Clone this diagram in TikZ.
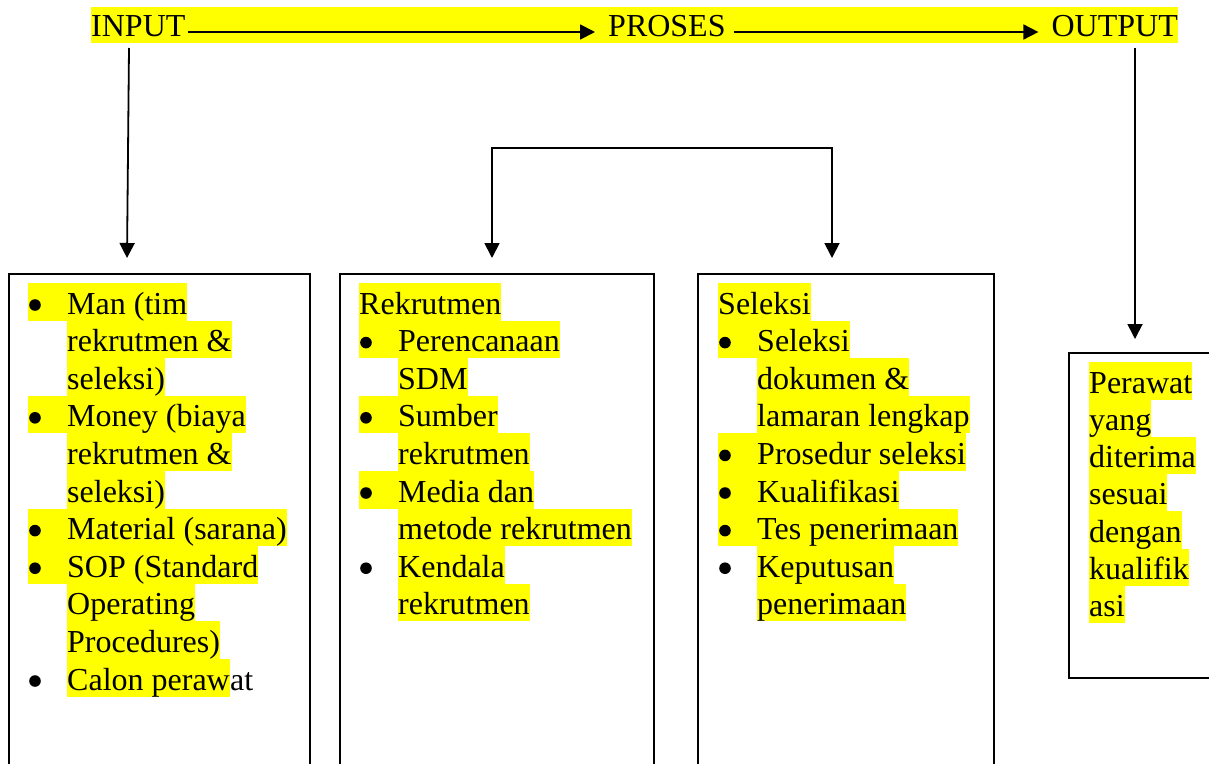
\documentclass[tikz,border=0pt]{standalone}
\usepackage{fontspec}
\setmainfont{Liberation Serif}
\usetikzlibrary{arrows.meta}
\definecolor{hly}{RGB}{255,255,0}
\begin{document}
\begin{tikzpicture}[x=1pt,y=-1pt,
  every node/.style={font=\fontsize{32pt}{37.6pt}\selectfont},
  hl/.style={fill=hly, inner sep=0pt, text height=31pt, text depth=6.6pt, anchor=base west},
  plain/.style={inner sep=0pt, text height=31pt, text depth=6.6pt, anchor=base west},
  boxst/.style={draw, line width=2pt, rectangle, inner sep=0pt, anchor=north west},
  arr/.style={line width=1.8pt, -{Triangle[width=15pt,length=15pt]}},
  darr/.style={line width=1.8pt, {Triangle[width=15pt,length=15pt]}-{Triangle[width=15pt,length=15pt]}}]
\useasboundingbox (0,0) rectangle (1209,763);
\clip (0,0) rectangle (1209,763);
\newcommand{\bul}{\hspace*{39pt}}
% top row
\node[fill=hly, inner sep=0pt, minimum width=1087pt, minimum height=36pt, anchor=north west] (band) at (91,7) {};
\node[inner sep=0pt, anchor=base west] (in) at (91,36) {INPUT};
\node[inner sep=0pt, anchor=base west] (pr) at (608,36) {PROSES};
\node[inner sep=0pt, anchor=base east] (out) at (1178,36) {OUTPUT};
\draw[arr] ([xshift=2pt,yshift=4pt]in.base east) -- ([xshift=-13pt,yshift=4pt]pr.base west);
\draw[arr] ([xshift=8pt,yshift=4pt]pr.base east) -- ([xshift=-13pt,yshift=4pt]out.base west);
% boxes
\node[boxst, minimum width=301pt, minimum height=520pt] (b1) at (8,273) {};
\node[boxst, minimum width=314pt, minimum height=520pt] (b2) at (339,273) {};
\node[boxst, minimum width=296pt, minimum height=520pt] (b3) at (697,273) {};
\node[boxst, minimum width=170pt, minimum height=325pt] (b4) at (1068,352) {};
% connectors
\coordinate (s1) at (129,48);
\coordinate (e1) at (127,258);
\coordinate (s4) at (1135,48);
\coordinate (e4) at (1135,339);
\coordinate (e2) at (492,258);
\coordinate (e3) at (832,258);
\coordinate (bk) at (662,148);
\draw[arr] (s1) -- (e1);
\draw[arr] (s4) -- (e4);
\draw[darr] (e2) |- (bk) -| (e3);
% box 1
\node[hl] (a0) at (28,314) {\bul Man (tim};
\node[hl] (a1) at (67,351.6) {rekrutmen \&};
\node[hl] (a2) at (67,389.2) {seleksi)};
\node[hl] (a3) at (28,426.8) {\bul Money (biaya};
\node[hl] (a4) at (67,464.4) {rekrutmen \&};
\node[hl] (a5) at (67,502) {seleksi)};
\node[hl] (a6) at (28,539.6) {\bul Material (sarana)};
\node[hl] (a7) at (28,577.2) {\bul SOP (Standard};
\node[hl] (a8) at (67,614.8) {Operating};
\node[hl] (a9) at (67,652.4) {Procedures)};
\node[hl] (a10) at (67,690) {Calon peraw};
\node[plain] (a10c) at (a10.base east) {at};
\foreach \n in {a0,a3,a6,a7} \fill ([xshift=7pt,yshift=9pt]\n.base west) circle (5.8pt);
\fill ([xshift=-32pt,yshift=9pt]a10.base west) circle (5.8pt);
% box 2
\node[hl] (c0) at (359,314) {Rekrutmen};
\node[hl] (c1) at (359,351.6) {\bul Perencanaan};
\node[hl] (c2) at (398,389.2) {SDM};
\node[hl] (c3) at (359,426.8) {\bul Sumber};
\node[hl] (c4) at (398,464.4) {rekrutmen};
\node[hl] (c5) at (359,502) {\bul Media dan};
\node[hl] (c6) at (398,539.6) {metode rekrutmen};
\node[hl] (c7) at (398,577.2) {Kendala};
\node[hl] (c8) at (398,614.8) {rekrutmen};
\foreach \n in {c1,c3,c5} \fill ([xshift=7pt,yshift=9pt]\n.base west) circle (5.8pt);
\fill ([xshift=-32pt,yshift=9pt]c7.base west) circle (5.8pt);
% box 3
\node[hl] (d0) at (718,314) {Seleksi};
\node[hl] (d1) at (718,351.6) {\bul Seleksi};
\node[hl] (d2) at (757,389.2) {dokumen \&};
\node[hl] (d3) at (757,426.8) {lamaran lengkap};
\node[hl] (d4) at (718,464.4) {\bul Prosedur seleksi};
\node[hl] (d5) at (718,502) {\bul Kualifikasi};
\node[hl] (d6) at (718,539.6) {\bul Tes penerimaan};
\node[hl] (d7) at (757,577.2) {Keputusan};
\node[hl] (d8) at (757,614.8) {penerimaan};
\foreach \n in {d1,d4,d5,d6} \fill ([xshift=7pt,yshift=9pt]\n.base west) circle (5.8pt);
\fill ([xshift=-32pt,yshift=9pt]d7.base west) circle (5.8pt);
% box 4
\node[hl] (f0) at (1089,393) {Perawat};
\node[hl] (f1) at (1089,430.3) {yang};
\node[hl] (f2) at (1089,467.6) {diterima};
\node[hl] (f3) at (1089,504.9) {sesuai};
\node[hl] (f4) at (1089,542.2) {dengan};
\node[hl] (f5) at (1089,579.5) {kualifik};
\node[hl] (f6) at (1089,616.8) {asi};
\end{tikzpicture}
\end{document}
